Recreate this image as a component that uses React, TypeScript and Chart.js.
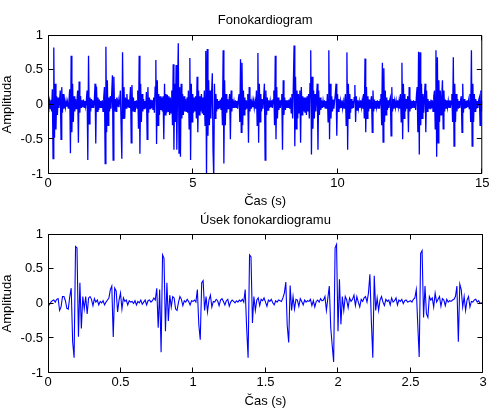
import React, { useEffect, useRef } from "react";
import { Chart, registerables } from "chart.js";

Chart.register(...registerables);

// ---- data ----
const FULL_TITLE = "Fonokardiogram";
const SEG_TITLE = "Úsek fonokardiogramu";
const X_LABEL = "Čas (s)";
const Y_LABEL = "Amplituda";

const FULL_DT = 0.025; // s between samples (whole recording, 0..15 s)
const FULL_VALUES = [
  .02,-.03,.05,-.06,.07,-.1,.22,-.78,.82,-.48, .3,-.36,.12,-.15,.1,-.05,.06,.2,-.5,.25, -.12,.15,-.06,.05,-.04,.05,-.03,.04,-.05,.06, .22,-.7,.7,-.4,.3,-.25,.12,-.1,.08,-.06,
  .05,.2,-.55,.33,-.12,.12,-.05,.06,-.04,.07, -.04,.05,-.03,.06,.2,-.8,.7,-.28,.1,-.1, .08,-.04,.06,-.05,.05,.3,-.56,.26,-.1,.1, -.08,.07,-.04,.05,-.05,.06,-.1,.1,.25,-.85,
  .83,-.4,.35,-.3,.1,-.1,.12,-.06,.15,.42, -.8,.4,-.1,.08,-.1,.1,-.03,.06,-.04,.05, .2,-.3,-.78,.75,-.2,.25,-.2,.1,-.05,.15, -.04,.07,-.04,.05,.25,-.55,.28,-.1,.1,-.1,
  .05,-.04,.06,-.05,.2,-.35,.7,-.71,.3,-.25, .15,-.1,.08,-.06,.05,-.05,.18,-.5,.25,-.12, .1,-.06,.07,-.05,.06,-.08,.1,-.12,.25,.64, -.57,.35,-.3,.15,-.15,.12,-.08,.1,-.1,.12,
  -.5,.3,-.15,.15,-.12,.14,-.1,.12,-.15,.1, -.12,.2,-.3,.58,-.65,.3,-.25,.57,-.65,.2, .88,-.7,.25,-.75,.3,-.2,.15,-.15,.12,-.1, .08,-.1,.1,-.12,.2,-.35,.67,-.8,.3,-.25,
  .15,-.12,.1,-.1,.12,-.2,.4,-.4,.2,-.15, .12,-.1,.15,-.12,.1,-.15,.2,-.3,.77,-1.05, .8,-.45,.35,-.3,.2,-.2,.15,.45,-.65,-1.05, .3,-.2,.15,-.1,.08,-.06,.05,-.05,.07,-.08,
  .1,-.3,.78,-.85,.35,-.3,.15,-.12,.08,-.06, .05,.15,-.5,.2,-.1,.08,-.05,.04,-.05,.06, -.04,.05,-.06,.07,.15,-.25,.65,-.4,.6,-.3, .2,-.15,.1,-.08,.06,-.05,.15,-.55,.25,-.1,
  .08,-.06,.05,-.04,.05,-.05,.04,-.06,.2,-.3, .74,-.55,.3,-.25,.15,-.1,.08,-.06,.1,.3, -.8,.2,-.15,.1,-.08,.06,-.05,.05,-.04,.06, -.05,.07,.2,-.3,.7,-.5,.25,-.2,.1,-.08,
  .06,-.05,.06,.15,-.65,.35,-.15,.1,-.08,.06, -.05,.06,-.05,.07,-.06,.1,-.12,.15,-.2,.3, .85,-.6,.4,-.35,.2,-.2,.15,-.12,.2,-.55, .25,-.15,.12,-.1,.1,-.12,.1,-.15,.12,-.1,
  .15,-.2,.3,.78,-.72,.4,-.35,.2,-.2,.15, -.1,.1,.3,-.65,.2,-.15,.1,-.08,.06,-.05, .05,-.04,.06,-.05,.05,-.06,.15,-.25,.78,-.5, .3,-.2,.12,-.1,.07,-.06,.05,.15,.3,-.45,
  .15,-.1,.08,-.06,.05,-.04,.06,-.05,.04,-.05, .06,.15,-.3,.75,-.65,.3,-.2,.15,-.12,.08, -.06,.05,-.05,.1,.28,-.25,.12,-.08,.06,-.05, .04,-.05,.06,-.04,.05,-.06,.15,-.2,.66,-.4,
  .25,-.2,.12,-.1,.07,-.05,.06,.12,-.4,.2, -.1,.07,-.05,.05,-.04,.06,-.05,.05,-.06,.07, .15,-.3,.6,-.54,.52,-.25,.2,-.15,.1,-.08, .06,-.05,.06,.1,-.45,.25,-.1,.08,-.06,.05,
  -.04,.05,-.05,.06,-.04,.05,-.06,.15,-.25,.6, -.5,.3,-.2,.15,-.1,.08,-.06,.12,-.4,.25, -.1,.07,-.06,.05,-.05,.06,-.04,.05,-.08,.12, .25,-.4,.76,-.72,.75,-.3,.3,-.2,.15,-.12,
  .1,.3,-.4,.2,-.1,.08,-.06,.05,-.06,.07, -.05,.06,-.1,.12,.2,-.35,.78,-.75,.68,-.55, .35,-.25,.2,-.15,.1,.35,-.35,.2,-.1,.07, -.05,.06,-.04,.05,-.05,.06,-.05,.05,.15,-.25,
  .68,-.6,.3,-.25,.15,-.1,.08,-.06,.05,-.05, .06,.12,-.4,.3,-.12,.08,-.06,.05,-.05,.06, -.04,.05,-.06,.15,-.25,.78,-.6,.3,-.25,.15, -.1,.08,-.06,.05,-.05,.06,.1,-.3,.2,-.1,
  .05,
];

const SEG_DT = 0.01; // s between samples (segment, 0..3 s)
const SEG_VALUES = [
  -.03,-.02,.02,.04,.05,.02,.06,.07,-.1,-.05,
  .1,.1,.04,-.07,-.08,.1,.22,-.55,-.78,.82,
  .8,-.48,.3,-.36,.1,-.08,.1,-.15,.08,.1,
  .06,-.03,.07,.02,.05,-.02,.03,.01,.04,-.02,
  .02,.05,.08,.2,.25,-.48,.22,.18,-.12,.05,
  .15,-.08,.08,.03,.05,-.02,.04,.02,.03,0,
  .04,-.02,.03,.01,.05,-.01,.02,.05,-.02,.04,
  .05,.02,.04,.08,.05,.22,-.35,.2,-.7,.7,
  .65,-.4,.3,-.25,.12,-.05,.1,.08,-.08,-.1,
  .02,.1,.06,-.03,.04,.02,.06,.03,-.02,.04,
  .03,.05,.02,.2,-.3,-.52,.3,.33,-.1,.1,
  -.12,.05,.12,-.05,.03,.02,.06,.04,-.03,.05,
  .07,.03,-.02,.04,.06,-.04,.02,.05,.03,.01,
  .04,.02,.05,.03,.06,.02,.2,-.35,-.78,.7,
  .67,-.28,.1,-.1,.05,.08,-.03,.06,.04,.08,
  .02,-.04,.05,.03,.06,.01,-.02,.04,.02,.05,
  .04,.03,.08,.15,.31,-.32,-.56,.26,-.1,.1,
  -.08,.06,.05,-.04,.07,.03,-.02,.05,.02,.04,
  .03,.06,-.03,.04,-.05,.03,.05,.02,.07,.04,
  .05,.1,-.1,.08,.25,-.35,-.6,-.84,.8,.85,
  -.4,.35,-.3,.1,-.1,.1,.05,-.06,.08,.03,
  .06,.12,-.03,.1,.02,-.05,.06,.03,.08,.1,
  .02,.15,.42,-.25,-.78,.4,-.1,.08,-.1,.05,
  .1,.02,-.03,.06,.03,.05,-.02,.08,.02,.04,
  .08,-.02,.05,.03,.06,0,.04,.05,.02,.03,
  .04,.02,.06,.08,.2,-.3,-.77,.72,.76,-.2,
  .25,-.15,-.2,.1,.05,.08,-.05,.15,.02,.06,
  .1,-.04,.07,.05,-.03,.06,.02,.04,.03,.05,
  .06,.1,.25,-.55,.28,.2,-.05,.1,-.1,.05,
  .1,-.05,.03,.02,.05,.06,.02,.04,0,.01,
  .01,
];

const FULL_X_TICKS = [0, 5, 10, 15];
const SEG_X_TICKS = [0, 0.5, 1, 1.5, 2, 2.5, 3];
const Y_TICKS = [-1, -0.5, 0, 0.5, 1];

// ---- drawing ----
const FONT = { family: "'Liberation Sans', Arial, Helvetica, sans-serif", size: 13, weight: "normal" as const };

const frameTicks = {
  id: "frameTicks",
  afterDatasetsDraw(chart: any) {
    const { ctx, chartArea } = chart;
    const { left, right, top, bottom } = chartArea;
    const xs = chart.scales.x;
    const ys = chart.scales.y;
    const L = left + 0.5, R = right - 0.5, T = top + 0.5, B = bottom - 0.5;
    const len = 5;
    const clamp = (v: number, a: number, b: number) => Math.max(a, Math.min(b, v));
    ctx.save();
    ctx.strokeStyle = "#000";
    ctx.lineWidth = 1;
    ctx.beginPath();
    ctx.rect(L, T, R - L, B - T);
    xs.ticks.forEach((t: any) => {
      const p = clamp(Math.round(xs.getPixelForValue(t.value)) - 0.5, L, R);
      ctx.moveTo(p, B); ctx.lineTo(p, B - len);
      ctx.moveTo(p, T); ctx.lineTo(p, T + len);
    });
    ys.ticks.forEach((t: any) => {
      const p = clamp(Math.round(ys.getPixelForValue(t.value)) - 0.5, T, B);
      ctx.moveTo(L, p); ctx.lineTo(L + len, p);
      ctx.moveTo(R, p); ctx.lineTo(R - len, p);
    });
    ctx.stroke();
    ctx.restore();
  },
};

type Opts = {
  values: number[];
  dt: number;
  xMax: number;
  xTicks: number[];
  title: string;
  titleTop: number;
  titleBottom: number;
  xTickPad: number;
  xTitlePad: number;
  xAxisHeight: number;
  lineWidth: number;
};

function buildChart(canvas: HTMLCanvasElement, o: Opts) {
  const data = o.values.map((v, i) => ({ x: i * o.dt, y: v }));
  return new Chart(canvas, {
    type: "line",
    data: {
      datasets: [
        {
          data,
          borderColor: "#0000ff",
          borderWidth: o.lineWidth,
          pointRadius: 0,
          tension: 0,
          fill: false,
        },
      ],
    },
    options: {
      animation: false,
      responsive: false,
      devicePixelRatio: 1,
      events: [],
      layout: { padding: { left: 0, right: 8, top: 0, bottom: 0 } },
      plugins: {
        legend: { display: false },
        tooltip: { enabled: false },
        title: {
          display: true,
          text: o.title,
          color: "#000",
          font: FONT,
          fullSize: false,
          padding: { top: o.titleTop, bottom: o.titleBottom },
        },
      },
      scales: {
        x: {
          type: "linear",
          min: 0,
          max: o.xMax,
          grid: { display: false, drawTicks: false },
          border: { display: false },
          afterBuildTicks: (s: any) => {
            s.ticks = o.xTicks.map((v) => ({ value: v }));
          },
          afterFit: (s: any) => {
            s.height = o.xAxisHeight;
          },
          ticks: {
            color: "#000",
            font: FONT,
            padding: o.xTickPad,
            maxRotation: 0,
            autoSkip: false,
            callback: (v: any) => String(v),
          },
          title: {
            display: true,
            text: X_LABEL,
            color: "#000",
            font: FONT,
            padding: { top: 0, bottom: o.xTitlePad },
          },
        },
        y: {
          type: "linear",
          min: -1,
          max: 1,
          grid: { display: false, drawTicks: false },
          border: { display: false },
          afterBuildTicks: (s: any) => {
            s.ticks = Y_TICKS.map((v) => ({ value: v }));
          },
          afterFit: (s: any) => {
            s.width = 48;
          },
          ticks: {
            color: "#000",
            font: FONT,
            padding: 5,
            autoSkip: false,
            callback: (v: any) => String(v),
          },
          title: {
            display: true,
            text: Y_LABEL,
            color: "#000",
            font: FONT,
            padding: { top: 0, bottom: 0 },
          },
        },
      },
    } as any,
    plugins: [frameTicks],
  });
}

export default function App() {
  const r1 = useRef<HTMLCanvasElement>(null);
  const r2 = useRef<HTMLCanvasElement>(null);

  useEffect(() => {
    const c1 = buildChart(r1.current!, {
      values: FULL_VALUES,
      dt: FULL_DT,
      xMax: 15,
      xTicks: FULL_X_TICKS,
      title: FULL_TITLE,
      titleTop: 12.2,
      titleBottom: 7.2,
      xTickPad: 1.5,
      xTitlePad: 0.7,
      xAxisHeight: 36,
      lineWidth: 1.3,
    });
    const c2 = buildChart(r2.current!, {
      values: SEG_VALUES,
      dt: SEG_DT,
      xMax: 3,
      xTicks: SEG_X_TICKS,
      title: SEG_TITLE,
      titleTop: 2.2,
      titleBottom: 6.2,
      xTickPad: 1.5,
      xTitlePad: 10.7,
      xAxisHeight: 47,
      lineWidth: 1.1,
    });
    return () => {
      c1.destroy();
      c2.destroy();
    };
  }, []);

  return (
    <div style={{ position: "absolute", left: 0, top: 0, width: 491, height: 420, background: "#fff" }}>
      <canvas ref={r1} width={491} height={210} style={{ display: "block", width: 491, height: 210 }} />
      <canvas ref={r2} width={491} height={210} style={{ display: "block", width: 491, height: 210 }} />
    </div>
  );
}
